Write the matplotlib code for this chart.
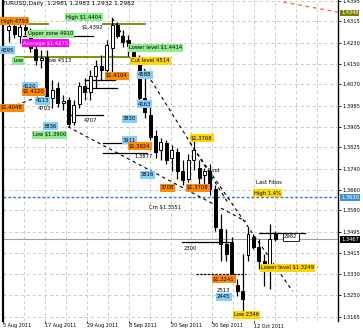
import numpy as np
import matplotlib.pyplot as plt

# daily EURUSD candles
opens = [1.4282, 1.4297, 1.4258, 1.4293, 1.4274, 1.4208, 1.4165, 1.4177, 1.4018, 1.4057,
         1.3998, 1.4010, 1.3925, 1.3994, 1.4064, 1.4041, 1.4103, 1.4142, 1.4126, 1.4212,
         1.4301, 1.4258, 1.4243, 1.4196, 1.4173, 1.4018, 1.3952, 1.3870, 1.3816, 1.3843,
         1.3785, 1.3808, 1.3731, 1.3700, 1.3777, 1.3746, 1.3719, 1.3731, 1.3661, 1.3506,
         1.3447, 1.3455, 1.3288, 1.3265, 1.3405, 1.3475, 1.3436, 1.3381, 1.3343, 1.3490]
highs = [1.4320, 1.4328, 1.4309, 1.4320, 1.4289, 1.4223, 1.4204, 1.4204, 1.4088, 1.4080,
         1.4029, 1.4022, 1.4010, 1.4080, 1.4095, 1.4126, 1.4165, 1.4185, 1.4243, 1.4328,
         1.4313, 1.4282, 1.4262, 1.4223, 1.4185, 1.4115, 1.4010, 1.3894, 1.3862, 1.3855,
         1.3835, 1.3824, 1.3777, 1.3797, 1.3862, 1.3777, 1.3746, 1.3758, 1.3680, 1.3564,
         1.3506, 1.3475, 1.3312, 1.3409, 1.3513, 1.3486, 1.3467, 1.3409, 1.3525, 1.3498]
lows = [1.4235, 1.4251, 1.4231, 1.4262, 1.4196, 1.4146, 1.4134, 1.3991, 1.3979, 1.3983,
        1.3971, 1.3905, 1.3913, 1.3979, 1.4010, 1.4010, 1.4057, 1.4088, 1.4103, 1.4115,
        1.4251, 1.4216, 1.4181, 1.4157, 1.4010, 1.3940, 1.3855, 1.3785, 1.3777, 1.3758,
        1.3731, 1.3700, 1.3680, 1.3688, 1.3737, 1.3680, 1.3661, 1.3638, 1.3498, 1.3381,
        1.3381, 1.3319, 1.3246, 1.3187, 1.3381, 1.3428, 1.3350, 1.3285, 1.3273, 1.3459]
closes = [1.4297, 1.4266, 1.4293, 1.4282, 1.4212, 1.4165, 1.4173, 1.4010, 1.4049, 1.3998,
          1.4006, 1.3917, 1.3991, 1.4064, 1.4041, 1.4103, 1.4142, 1.4126, 1.4223, 1.4301,
          1.4258, 1.4235, 1.4220, 1.4165, 1.4018, 1.3963, 1.3866, 1.3808, 1.3847, 1.3777,
          1.3816, 1.3731, 1.3696, 1.3777, 1.3816, 1.3707, 1.3731, 1.3661, 1.3513, 1.3447,
          1.3409, 1.3331, 1.3265, 1.3234, 1.3486, 1.3436, 1.3381, 1.3343, 1.3467, 1.3467]

price_ticks = [1.4395, 1.4315, 1.4230, 1.4150, 1.4070, 1.3985, 1.3905, 1.3825,
               1.3740, 1.3660, 1.3580, 1.3495, 1.3415, 1.3330, 1.3250, 1.3165]
date_labels = ["5 Aug 2011", "17 Aug 2011", "29 Aug 2011", "8 Sep 2011",
               "20 Sep 2011", "30 Sep 2011", "12 Oct 2011"]
title = "EURUSD,Daily  1.2981 1.2983 1.2932 1.2982"

bid = 1.3467
blue_level = 1.3630
olive_level = 1.4348

# horizontal level segments: price, from bar, to bar
olive_lines = [(1.4305, -0.9, 7.3), (1.4305, 17.3, 25.1), (1.4177, 1.3, 22.2)]
black_lines = [(1.4258, 2.7, 15.5), (1.4088, 14.0, 19.5), (1.4057, 14.0, 20.0),
               (1.3952, 11.5, 17.3), (1.3843, 17.3, 25.5), (1.3804, 17.3, 25.5),
               (1.3455, 31.8, 40.9), (1.3490, 46.0, 54.5)]
dotted_lines = [(1.3331, 34.5, 43.6)]
# trend lines: (bar, price) -> (bar, price)
trend_lines = [((19.0, 1.4328), (40.5, 1.3603)),
               ((10.9, 1.3905), (43.6, 1.3537)),
               ((33.3, 1.3843), (52.2, 1.3265)),
               ((-0.9, 1.3971), (6.4, 1.4029))]
red_line = ((50.5, 1.4390), (60.5, 1.4351))

fig = plt.figure(figsize=(3.63, 3.30), dpi=100)
ax = fig.add_axes([3 / 363, 9 / 330, 335 / 363, 321 / 330])
ax.set_xlim(-0.36, 60.55)
ax.set_ylim(1.3149, 1.4398)

# grid
grid_kw = dict(color='#c8c8c8', lw=0.7, ls=(0, (3, 3)), zorder=0)
for p in price_ticks:
    ax.axhline(p, **grid_kw)
for gx in np.arange(-1.05, 61, 3.85):
    ax.axvline(gx, **grid_kw)

ax.axhline(bid, color='#a0a0a0', lw=0.8, zorder=1)
ax.axhline(blue_level, color='#2a7fd0', lw=1.0, ls=(0, (2, 1.5)), zorder=1)

for p, a, b in olive_lines:
    ax.plot([a, b], [p, p], color='#808000', lw=1.3, zorder=2)
for p, a, b in black_lines:
    ax.plot([a, b], [p, p], color='black', lw=0.9, zorder=2)
for p, a, b in dotted_lines:
    ax.plot([a, b], [p, p], color='black', lw=0.9, ls=(0, (2, 1)), zorder=2)
for (x0, y0), (x1, y1) in trend_lines:
    ax.plot([x0, x1], [y0, y1], color='black', lw=0.8, ls=(0, (3, 3)), zorder=2)
ax.plot([red_line[0][0], red_line[1][0]], [red_line[0][1], red_line[1][1]],
        color='#ff5a36', lw=0.9, ls=(0, (3, 3)), zorder=2)

# candles
x = np.arange(len(opens))
o = np.array(opens)
c = np.array(closes)
up = c >= o
ax.vlines(x, lows, highs, color='black', lw=0.9, zorder=3)
body = np.maximum(np.abs(c - o), 0.0003)
ax.bar(x[up], body[up], bottom=o[up], width=0.55, color='white', edgecolor='black', lw=0.7, zorder=4)
ax.bar(x[~up], body[~up], bottom=c[~up], width=0.55, color='black', edgecolor='black', lw=0.7, zorder=4)


def tag(px, py, s, fc=None, tc='black', ec='none', fs=3.8):
    kw = {}
    if fc:
        kw['bbox'] = dict(boxstyle='square,pad=0.2', fc=fc, ec=ec, lw=0.6)
    ax.text((px - 3) / 335, 1 - py / 321, s, transform=ax.transAxes, fontsize=fs,
            color=tc, va='center', ha='left', zorder=6, clip_on=False, **kw)


orange = '#ff8c00'
green = '#90ee90'
lblue = '#87cefa'
yellow = '#ffd700'
tag(1, 21, "High 4793", orange)
tag(66, 17, "High $1.4404", green)
tag(82, 28, "$1.4392")
tag(28, 34, "Upper zone 4910", green)
tag(23, 43, "Average $1.4275", '#ff00ff', tc='white')
tag(1, 50, "4395", lblue)
tag(13, 61, "Low", green)
tag(46, 61, "Low 4513")
tag(106, 76, "$1.4104", orange)
tag(129, 48, "Lower level $1.4414", green)
tag(131, 61, "Cut level 4514", yellow)
tag(138, 75, "4588", lblue)
tag(138, 104, "4163", lblue)
tag(23, 86, "4120", lblue)
tag(23, 92, "$1.4120", orange)
tag(1, 108, "$1.4048", orange)
tag(36, 101, "4113", lblue)
tag(38, 108, "4703")
tag(84, 120, "4707")
tag(44, 126, "3836", lblue)
tag(33, 135, "Low $1.3900", green)
tag(123, 119, "3830", lblue)
tag(123, 140, "3911", lblue)
tag(129, 146, "$1.3924", orange)
tag(134, 157, "1.3877")
tag(141, 175, "3816", lblue)
tag(161, 188, "3708", orange)
tag(187, 188, "$1.3708", orange)
tag(191, 138, "$1.3768", yellow)
tag(207, 171, "Pivot")
tag(149, 208, "Cm $1.3551")
tag(256, 183, "Last Fibos")
tag(254, 193, "High 1.4%", yellow)
tag(184, 248, "2300")
tag(213, 279, "$1.3241", orange)
tag(217, 290, "2513")
tag(217, 297, "2445", lblue)
tag(234, 315, "Low 2346", yellow)
tag(261, 268, "Lower level $1.3249", yellow)
tag(284, 237, "2982", 'white', ec='black')
tag(2, 4, title, fs=4.2)

# right price scale
ax.yaxis.tick_right()
ax.set_yticks(price_ticks)
ax.set_yticklabels([f"{p:.4f}" for p in price_ticks])
ax.tick_params(axis='y', length=2, width=0.6, labelsize=3.7, pad=1)
yt = ax.get_yaxis_transform()
for p, s, fc in [(olive_level, "1.4348", '#808000'), (blue_level, "1.3630", '#3f8fd6'),
                 (bid, "1.3467", 'black')]:
    ax.text(1.009, p, s, transform=yt, fontsize=3.7, color='white', va='center', ha='left',
            zorder=7, clip_on=False, bbox=dict(boxstyle='square,pad=0.15', fc=fc, ec='none'))

# dates
date_pos = np.arange(-1.05, 61, 7.7)[:len(date_labels)]
ax.set_xticks(date_pos)
ax.set_xticklabels(date_labels, ha='left')
ax.tick_params(axis='x', length=1.5, width=0.6, labelsize=3.5, pad=0.3)

for side in ['top', 'bottom']:
    ax.spines[side].set_visible(False)
ax.spines['left'].set_linewidth(1.6)
ax.spines['right'].set_linewidth(1.0)

fig.savefig('out.png', dpi=100)
